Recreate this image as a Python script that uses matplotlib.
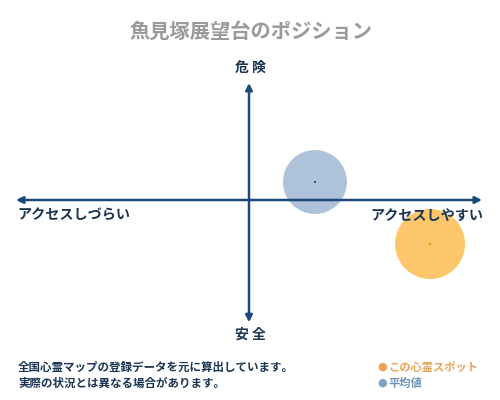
import matplotlib
matplotlib.use("Agg")
import matplotlib.pyplot as plt

plt.rcParams['font.family'] = ['Noto Sans CJK JP', 'DejaVu Sans']

title = "魚見塚展望台のポジション"
label_top = "危 険"
label_bottom = "安 全"
label_left = "アクセスしづらい"
label_right = "アクセスしやすい"
note_lines = ["全国心霊マップの登録データを元に算出しています。",
              "実際の状況とは異なる場合があります。"]
series_names = ["この心霊スポット", "平均値"]
series_x = [77.7, 28.3]
series_y = [-37.6, 15.4]
series_size = [2540, 2120]

navy = "#1b4a7a"
text_navy = "#1a3552"
fill_colors = ["#fcc35e", "#a7bdd7"]
dot_colors = ["#f0a020", "#1a2a40"]
legend_dot_colors = ["#f0a050", "#7fa3c6"]
legend_text_colors = ["#e8a458", "#6f93b8"]

W, H = 500, 400
fig = plt.figure(figsize=(5, 4), dpi=100)
ax = fig.add_axes([16 / W, 1 - 317 / H, 466 / W, 234 / H])
ax.set_xlim(-100, 100)
ax.set_ylim(-100, 100)
ax.axis('off')

# circles (this spot first, average second)
for i in [1, 0]:
    ax.scatter([series_x[i]], [series_y[i]], s=series_size[i], color=fill_colors[i],
               alpha=0.92, edgecolors='none', zorder=1)
    ax.scatter([series_x[i]], [series_y[i]], s=5 if i == 0 else 2, color=dot_colors[i],
               edgecolors='none', zorder=1.5)

arrow_kw = dict(arrowstyle='<|-|>', color=navy, lw=1.8, mutation_scale=10,
                shrinkA=0, shrinkB=0)
ax.annotate('', xy=(-100, 0), xytext=(100, 0), arrowprops=arrow_kw, zorder=2)
ax.annotate('', xy=(0, 100), xytext=(0, -104.5), arrowprops=arrow_kw, zorder=2)

def px(x, y):
    return x / W, 1 - y / H

fig.text(*px(251, 31), title, ha='center', va='center', fontsize=14.6,
         color='#9a9a9a', fontweight='bold')
fig.text(*px(250, 68), label_top, ha='center', va='center', fontsize=10,
         color=text_navy, fontweight='bold')
fig.text(*px(250, 335), label_bottom, ha='center', va='center', fontsize=10,
         color=text_navy, fontweight='bold')
fig.text(*px(17, 216), label_left, ha='left', va='center', fontsize=10.2,
         color=text_navy, fontweight='bold')
fig.text(*px(483, 216), label_right, ha='right', va='center', fontsize=10.2,
         color=text_navy, fontweight='bold')

for k, line in enumerate(note_lines):
    fig.text(*px(18, 367 + 16 * k), line, ha='left', va='center', fontsize=8.3,
             color=text_navy, fontweight='bold')

for k, name in enumerate(series_names):
    fig.text(*px(382, 367 + 16 * k), "●", ha='center', va='center', fontsize=8,
             color=legend_dot_colors[k], family=['DejaVu Sans'])
    fig.text(*px(388, 367 + 16 * k), name, ha='left', va='center', fontsize=8.1,
             color=legend_text_colors[k], fontweight='bold')

fig.savefig("out.png", dpi=100)
